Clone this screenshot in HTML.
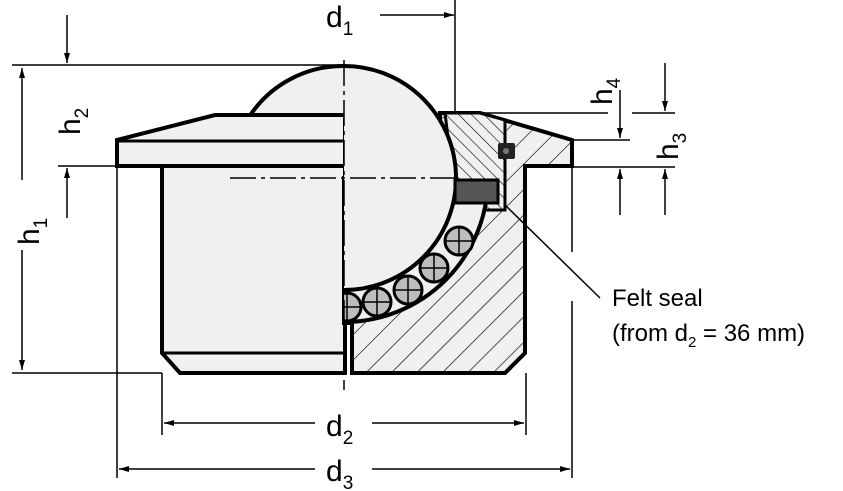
<!DOCTYPE html>
<html><head><meta charset="utf-8"><style>
html,body{margin:0;padding:0;background:#fff}
svg{display:block}
text{font-family:"Liberation Sans",Arial,sans-serif;fill:#000}
</style></head><body>
<svg width="843" height="491" viewBox="0 0 843 491" xmlns="http://www.w3.org/2000/svg">
<defs>
<pattern id="h1" patternUnits="userSpaceOnUse" width="18" height="18" patternTransform="rotate(45)">
<rect width="18" height="18" fill="#f0f0f0"/><line x1="0" y1="0" x2="0" y2="18" stroke="#000" stroke-width="1.3"/></pattern>
<pattern id="h2" patternUnits="userSpaceOnUse" width="9" height="9" patternTransform="rotate(-45)">
<rect width="9" height="9" fill="#f0f0f0"/><line x1="0" y1="0" x2="0" y2="9" stroke="#000" stroke-width="1.2"/></pattern>
<clipPath id="lower"><rect x="344" y="200" width="300" height="200"/></clipPath>
<clipPath id="right"><rect x="344" y="0" width="300" height="400"/></clipPath>
<marker id="ar" viewBox="0 0 10 6" refX="10" refY="3" markerWidth="10" markerHeight="6" markerUnits="userSpaceOnUse" orient="auto"><path d="M0,0L10,3L0,6z" fill="#000"/></marker>
</defs>

<!-- left body -->
<polygon points="162,166 345,166 345,373 180,373 162,353" fill="#f0f0f0" stroke="#000" stroke-width="4"/>
<line x1="162" y1="353" x2="345" y2="353" stroke="#000" stroke-width="3"/>
<!-- left ball top -->
<path d="M249,117 A112,112 0 0 1 344,66 L344,117 Z" fill="#f0f0f0"/>
<path d="M249,117 A112,112 0 0 1 344,66" fill="none" stroke="#000" stroke-width="4"/>
<!-- left flange -->
<polygon points="117,140 215,115 345,115 345,166 117,166" fill="#f0f0f0" stroke="#000" stroke-width="4"/>
<line x1="117" y1="141" x2="345" y2="141" stroke="#000" stroke-width="3"/>

<!-- right housing -->
<polygon points="440,113 480,113 572,140 572,166 525,166 525,353 505,373 352,373 352,323 344,323 344,178 440,178" fill="url(#h1)" stroke="#000" stroke-width="4"/>
<!-- upper insert piece -->
<polygon points="445,113 480,113 505,120 505,210 452,210 452,170" fill="url(#h2)" stroke="#000" stroke-width="3"/>
<!-- cage region -->
<circle cx="344" cy="178" r="144" fill="#f0f0f0" stroke="#000" stroke-width="4" clip-path="url(#lower)"/>
<!-- balls -->
<g fill="#bdbdbd" stroke="#000" stroke-width="3" clip-path="url(#right)">
<circle cx="459" cy="241" r="14"/><circle cx="434" cy="268" r="14"/><circle cx="408" cy="290" r="14"/><circle cx="377" cy="302" r="14"/><circle cx="347" cy="307" r="14"/>
</g>
<g stroke="#000" stroke-width="1.5" clip-path="url(#right)">
<path d="M445,241h28M459,227v28M420,268h28M434,254v28M394,290h28M408,276v28M363,302h28M377,288v28M333,307h28M347,293v28"/>
</g>
<!-- main ball right half -->
<circle cx="344" cy="178" r="112" fill="#f0f0f0" stroke="#000" stroke-width="4" clip-path="url(#right)"/>
<!-- felt seal -->
<rect x="455" y="180" width="43" height="23" fill="#555" stroke="#000" stroke-width="3"/>
<rect x="498" y="143" width="17" height="16" rx="2" fill="#222"/>
<circle cx="506" cy="151" r="3" fill="#777"/>
<line x1="352" y1="323" x2="352" y2="373" stroke="#000" stroke-width="4"/>

<!-- center lines -->
<line x1="344" y1="60" x2="344" y2="390" stroke="#000" stroke-width="1.5" stroke-dasharray="26,5,4,5"/>
<line x1="230" y1="178" x2="455" y2="178" stroke="#000" stroke-width="1.5" stroke-dasharray="26,5,4,5"/>

<!-- dimension/extension lines -->
<g stroke="#000" stroke-width="1.5" fill="none">
<line x1="12" y1="65" x2="344" y2="65"/>
<line x1="58" y1="166" x2="117" y2="166"/>
<line x1="12" y1="373" x2="162" y2="373"/>
<line x1="22" y1="180" x2="22" y2="68" marker-end="url(#ar)"/>
<line x1="22" y1="250" x2="22" y2="370" marker-end="url(#ar)"/>
<line x1="67" y1="15" x2="67" y2="63" marker-end="url(#ar)"/>
<line x1="67" y1="218" x2="67" y2="168" marker-end="url(#ar)"/>
<line x1="455" y1="0" x2="455" y2="113"/>
<line x1="380" y1="15" x2="454" y2="15" marker-end="url(#ar)"/>
<line x1="455" y1="113" x2="608" y2="113"/><line x1="632" y1="113" x2="675" y2="113"/>
<line x1="572" y1="140" x2="630" y2="140"/>
<line x1="572" y1="167" x2="675" y2="167"/>
<line x1="620" y1="90" x2="620" y2="138" marker-end="url(#ar)"/>
<line x1="620" y1="215" x2="620" y2="169" marker-end="url(#ar)"/>
<line x1="665" y1="63" x2="665" y2="111" marker-end="url(#ar)"/>
<line x1="665" y1="215" x2="665" y2="169" marker-end="url(#ar)"/>
<line x1="117" y1="166" x2="117" y2="478"/>
<line x1="572" y1="166" x2="572" y2="252"/><line x1="572" y1="301" x2="572" y2="478"/>
<line x1="162" y1="373" x2="162" y2="435"/>
<line x1="526" y1="373" x2="526" y2="435"/>
<line x1="315" y1="423" x2="164" y2="423" marker-end="url(#ar)"/>
<line x1="372" y1="423" x2="524" y2="423" marker-end="url(#ar)"/>
<line x1="315" y1="469" x2="119" y2="469" marker-end="url(#ar)"/>
<line x1="372" y1="469" x2="570" y2="469" marker-end="url(#ar)"/>
<line x1="505" y1="205" x2="600" y2="298"/>
</g>

<!-- labels -->
<text x="326" y="27" font-size="30">d<tspan font-size="19" dy="8">1</tspan></text>
<text x="326" y="436" font-size="30">d<tspan font-size="19" dy="8">2</tspan></text>
<text x="326" y="481" font-size="30">d<tspan font-size="19" dy="8">3</tspan></text>
<text transform="translate(80,135) rotate(-90)" font-size="30">h<tspan font-size="19" dy="8">2</tspan></text>
<text transform="translate(39,245) rotate(-90)" font-size="30">h<tspan font-size="19" dy="8">1</tspan></text>
<text transform="translate(612,105) rotate(-90)" font-size="30">h<tspan font-size="19" dy="8">4</tspan></text>
<text transform="translate(678,160) rotate(-90)" font-size="30">h<tspan font-size="19" dy="8">3</tspan></text>
<text x="612" y="306" font-size="24">Felt seal</text>
<text x="612" y="341" font-size="24">(from d<tspan font-size="15" dy="6">2</tspan><tspan dy="-6"> = 36 mm)</tspan></text>
</svg>
</body></html>
